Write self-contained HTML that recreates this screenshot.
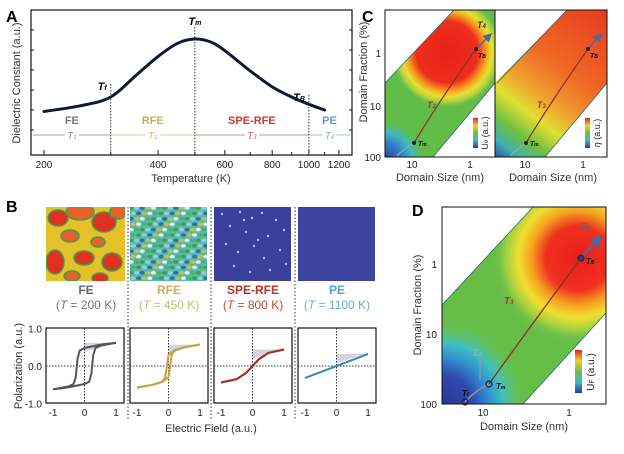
<!DOCTYPE html>
<html><head><meta charset="utf-8"><style>
html,body{margin:0;padding:0;background:#fff;}
svg{display:block;font-family:"Liberation Sans",sans-serif;}
</style></head><body>
<svg id="fig" width="624" height="454" viewBox="0 0 624 454" xmlns="http://www.w3.org/2000/svg">
<defs>
  <linearGradient id="cbar" x1="0" y1="0" x2="0" y2="1">
    <stop offset="0" stop-color="#e8201a"/><stop offset="0.25" stop-color="#f0d030"/>
    <stop offset="0.5" stop-color="#6cc048"/><stop offset="0.75" stop-color="#40b8c8"/>
    <stop offset="1" stop-color="#2a3a9a"/>
  </linearGradient>
  <radialGradient id="cRed" cx="447" cy="52" r="56" gradientUnits="userSpaceOnUse">
    <stop offset="0" stop-color="#e8201a"/><stop offset="0.55" stop-color="#ee2e1c"/>
    <stop offset="0.7" stop-color="#f4a020"/><stop offset="0.8" stop-color="#e8e030"/>
    <stop offset="0.9" stop-color="#a8d040"/><stop offset="1" stop-color="#6cc048" stop-opacity="0"/>
  </radialGradient>
  <radialGradient id="cBlue" cx="385" cy="160" r="42" gradientUnits="userSpaceOnUse">
    <stop offset="0" stop-color="#2a3a9a"/><stop offset="0.4" stop-color="#3080c8"/>
    <stop offset="0.65" stop-color="#40b8c0"/><stop offset="1" stop-color="#6cc048" stop-opacity="0"/>
  </radialGradient>
  <linearGradient id="cEta" x1="495" y1="157" x2="607" y2="10" gradientUnits="userSpaceOnUse">
    <stop offset="0" stop-color="#3050a0"/><stop offset="0.08" stop-color="#40b0b0"/>
    <stop offset="0.18" stop-color="#70c040"/><stop offset="0.3" stop-color="#e0e030"/>
    <stop offset="0.42" stop-color="#f0a030"/><stop offset="0.6" stop-color="#f06a25"/>
    <stop offset="1" stop-color="#e83a20"/>
  </linearGradient>
  <radialGradient id="dRed" cx="578" cy="258" r="85" gradientUnits="userSpaceOnUse">
    <stop offset="0" stop-color="#e82018"/><stop offset="0.38" stop-color="#f03020"/>
    <stop offset="0.55" stop-color="#f5a020"/><stop offset="0.7" stop-color="#f0e030"/>
    <stop offset="0.85" stop-color="#a0d040"/><stop offset="1" stop-color="#6cc048" stop-opacity="0"/>
  </radialGradient>
  <radialGradient id="dBlue" cx="442" cy="404" r="85" gradientUnits="userSpaceOnUse">
    <stop offset="0" stop-color="#283890"/><stop offset="0.35" stop-color="#3048b0"/>
    <stop offset="0.55" stop-color="#3090d0"/><stop offset="0.72" stop-color="#40c0c0"/>
    <stop offset="1" stop-color="#6cc048" stop-opacity="0"/>
  </radialGradient>
  <clipPath id="clipC1"><polygon points="385,157 385,83 454,10 495,10 495,83 433,157"/></clipPath>
  <clipPath id="clipC2"><polygon points="495,157 495,83 567,10 607,10 607,83 545,157"/></clipPath>
  <clipPath id="clipD"><polygon points="442,404 442,305 533,207 606,207 606,313 523,404"/></clipPath>
  <clipPath id="t1"><rect x="46" y="207" width="79" height="74"/></clipPath>
  <clipPath id="t2"><rect x="130" y="207" width="77" height="74"/></clipPath>
  <marker id="arr" markerWidth="6" markerHeight="6" refX="5" refY="3" orient="auto"><path d="M0,0 L6,3 L0,6 z" fill="#4a6aa0"/></marker>
</defs>

<g>
  <text x="6" y="22" font-size="16" font-weight="bold">A</text>
  <rect x="31" y="10" width="321" height="145" fill="none" stroke="#111" stroke-width="1.2"/>
  <text transform="translate(20,83) rotate(-90)" text-anchor="middle" font-size="11" fill="#333">Dielectric Constant (a.u.)</text>
  <text x="191" y="182" text-anchor="middle" font-size="11" fill="#333">Temperature (K)</text>
  <g id="aTicks"></g>
  <g id="aCurve"></g>
</g>

<g>
  <text x="6" y="212" font-size="16" font-weight="bold">B</text>
  <g clip-path="url(#t1)">
    <rect x="46" y="207" width="79" height="74" fill="#e6c028"/>
    <g stroke="#3aa050" stroke-width="1.5">
      <ellipse cx="58" cy="218" rx="10" ry="8" fill="#e03020"/>
      <ellipse cx="80" cy="212" rx="14" ry="8" fill="#e8602a"/>
      <ellipse cx="104" cy="222" rx="12" ry="10" fill="#e03020"/>
      <ellipse cx="118" cy="212" rx="8" ry="7" fill="#e8602a"/>
      <ellipse cx="70" cy="236" rx="9" ry="6" fill="#e8602a"/>
      <ellipse cx="98" cy="242" rx="7" ry="5" fill="#e8602a"/>
      <ellipse cx="55" cy="262" rx="9" ry="12" fill="#e03020"/>
      <ellipse cx="84" cy="258" rx="10" ry="7" fill="#e03020"/>
      <ellipse cx="112" cy="262" rx="10" ry="9" fill="#e03020"/>
      <ellipse cx="72" cy="276" rx="8" ry="5" fill="#e8602a"/>
      <ellipse cx="100" cy="278" rx="8" ry="5" fill="#e03020"/>
    </g>
  </g>
  <g clip-path="url(#t2)">
    <rect x="130" y="207" width="77" height="74" fill="#5cb8a8"/>
    <g id="rfeTex"></g>
  </g>
  <g>
    <rect x="214" y="207" width="77" height="74" fill="#3a3f9c"/>
    <g id="speDots" fill="#a8c8f0"></g>
  </g>
  <rect x="298" y="207" width="77" height="74" fill="#3d44a0"/>
  <g stroke="#333" stroke-dasharray="1.5,2" stroke-width="1">
    <line x1="128" y1="207" x2="128" y2="420"/><line x1="211" y1="207" x2="211" y2="420"/><line x1="295" y1="207" x2="295" y2="420"/>
  </g>
  <g font-size="12" text-anchor="middle">
    <text x="86" y="294" font-weight="bold" fill="#666">FE</text>
    <text x="86" y="309" fill="#777">(<tspan font-style="italic">T</tspan> = 200 K)</text>
    <text x="169" y="294" font-weight="bold" fill="#c8b060">RFE</text>
    <text x="169" y="309" fill="#c8b878">(<tspan font-style="italic">T</tspan> = 450 K)</text>
    <text x="253" y="294" font-weight="bold" fill="#c0302a">SPE-RFE</text>
    <text x="253" y="309" fill="#b84a3a">(<tspan font-style="italic">T</tspan> = 800 K)</text>
    <text x="337" y="294" font-weight="bold" fill="#5aa0c8">PE</text>
    <text x="337" y="309" fill="#6aaad0">(<tspan font-style="italic">T</tspan> = 1100 K)</text>
  </g>
  <text transform="translate(22,366) rotate(-90)" text-anchor="middle" font-size="11" fill="#333">Polarization (a.u.)</text>
  <text x="211" y="432" text-anchor="middle" font-size="11" fill="#333">Electric Field (a.u.)</text>
  <g id="loops"></g>
</g>

<g>
  <text x="362" y="22" font-size="16" font-weight="bold">C</text>
  <g clip-path="url(#clipC1)">
    <rect x="385" y="10" width="110" height="147" fill="#62bc48"/>
    <rect x="385" y="10" width="110" height="147" fill="url(#cRed)"/>
    <rect x="385" y="10" width="110" height="147" fill="url(#cBlue)"/>
  </g>
  <g clip-path="url(#clipC2)">
    <rect x="495" y="10" width="112" height="147" fill="url(#cEta)"/>
  </g>
  <g fill="none" stroke="#2a6a6a" stroke-width="0.8">
    <polyline points="385,83 454,10"/><polyline points="433,157 495,83"/>
    <polyline points="497,83 567,10"/><polyline points="545,157 607,83"/>
  </g>
  <rect x="385" y="10" width="110" height="147" fill="none" stroke="#111"/>
  <rect x="495" y="10" width="112" height="147" fill="none" stroke="#111"/>
  <g font-size="10" fill="#222" text-anchor="end">
    <text x="381" y="57">1</text><text x="381" y="110">10</text><text x="381" y="161">100</text>
  </g>
  <g font-size="10" fill="#222" text-anchor="middle">
    <text x="412" y="168">10</text><text x="470" y="168">1</text>
    <text x="525" y="168">10</text><text x="583" y="168">1</text>
  </g>
  <text x="440" y="181" text-anchor="middle" font-size="11" fill="#333">Domain Size (nm)</text>
  <text x="553" y="181" text-anchor="middle" font-size="11" fill="#333">Domain Size (nm)</text>
  <text transform="translate(367,72) rotate(-90)" text-anchor="middle" font-size="11" fill="#333">Domain Fraction (%)</text>
  <rect x="473" y="118" width="5" height="30" fill="url(#cbar)"/>
  <text transform="translate(488,133) rotate(-90)" text-anchor="middle" font-size="9" fill="#222">U<tspan font-size="6">e</tspan> (a.u.)</text>
  <rect x="585" y="118" width="5" height="30" fill="url(#cbar)"/>
  <text transform="translate(600,133) rotate(-90)" text-anchor="middle" font-size="9" fill="#222" font-style="italic">η <tspan font-style="normal">(a.u.)</tspan></text>
  <g>
    <path d="M397,156 Q402,150 414,143" stroke="#aaa" fill="none" stroke-width="1"/>
    <path d="M414,143 Q440,100 476,49" stroke="#8a3020" fill="none" stroke-width="1.2"/>
    <line x1="476" y1="49" x2="491" y2="34" stroke="#4a6aa0" stroke-width="1.5" marker-end="url(#arr)"/>
    <circle cx="414" cy="143" r="2" fill="#222"/><circle cx="476" cy="49" r="2" fill="#222"/>
    <text x="418" y="146" font-size="7" font-style="italic" font-weight="bold">T<tspan font-size="5">m</tspan></text>
    <text x="478" y="58" font-size="7" font-style="italic" font-weight="bold">T<tspan font-size="5">B</tspan></text>
    <text x="427" y="108" font-size="9" font-style="italic" fill="#a04020" font-weight="bold">T<tspan font-size="6">3</tspan></text>
    <text x="477" y="28" font-size="9" font-style="italic" fill="#333" font-weight="bold">T<tspan font-size="6">4</tspan></text>
  </g>
  <g>
    <path d="M510,156 Q516,150 526,143" stroke="#aaa" fill="none" stroke-width="1"/>
    <path d="M526,143 Q552,100 588,49" stroke="#8a3020" fill="none" stroke-width="1.2"/>
    <line x1="588" y1="49" x2="601" y2="34" stroke="#4a6aa0" stroke-width="1.5" marker-end="url(#arr)"/>
    <circle cx="526" cy="143" r="2" fill="#222"/><circle cx="588" cy="49" r="2" fill="#222"/>
    <text x="530" y="146" font-size="7" font-style="italic" font-weight="bold">T<tspan font-size="5">m</tspan></text>
    <text x="590" y="58" font-size="7" font-style="italic" font-weight="bold">T<tspan font-size="5">B</tspan></text>
    <text x="537" y="108" font-size="9" font-style="italic" fill="#a04020" font-weight="bold">T<tspan font-size="6">3</tspan></text>
  </g>
</g>

<g>
  <text x="412" y="216" font-size="16" font-weight="bold">D</text>
  <g clip-path="url(#clipD)">
    <rect x="442" y="207" width="164" height="197" fill="#66be48"/>
    <rect x="442" y="207" width="164" height="197" fill="url(#dRed)"/>
    <rect x="442" y="207" width="164" height="197" fill="url(#dBlue)"/>
  </g>
  <g fill="none" stroke="#2a6a6a" stroke-width="0.8">
    <polyline points="442,305 533,207"/><polyline points="523,404 606,313"/>
  </g>
  <rect x="442" y="207" width="164" height="197" fill="none" stroke="#111"/>
  <g font-size="10" fill="#222" text-anchor="end">
    <text x="437" y="268">1</text><text x="437" y="338">10</text><text x="437" y="408">100</text>
  </g>
  <g font-size="10" fill="#222" text-anchor="middle">
    <text x="483" y="416">10</text><text x="569" y="416">1</text>
  </g>
  <text x="524" y="430" text-anchor="middle" font-size="11" fill="#333">Domain Size (nm)</text>
  <text transform="translate(421,305) rotate(-90)" text-anchor="middle" font-size="11" fill="#333">Domain Fraction (%)</text>
  <rect x="575" y="350" width="7" height="43" fill="url(#cbar)"/>
  <text transform="translate(594,372) rotate(-90)" text-anchor="middle" font-size="10" fill="#222">U<tspan font-size="7">F</tspan> (a.u.)</text>
  <g>
    <path d="M465,402 Q476,390 489,384" stroke="#999" fill="none" stroke-width="1.3"/>
    <line x1="480" y1="380" x2="480" y2="355" stroke="#999" stroke-width="1.2"/>
    <path d="M489,384 Q535,320 581,258" stroke="#8a3020" fill="none" stroke-width="1.3"/>
    <line x1="581" y1="258" x2="601" y2="236" stroke="#4a6aa0" stroke-width="2" marker-end="url(#arr)"/>
    <circle cx="489" cy="384" r="3" fill="none" stroke="#222" stroke-width="1.2"/>
    <circle cx="465" cy="402" r="3" fill="none" stroke="#222" stroke-width="1.2"/>
    <circle cx="581" cy="258" r="3" fill="#2a3a9a" stroke="#222" stroke-width="1"/>
    <text x="496" y="389" font-size="8" font-style="italic" font-weight="bold">T<tspan font-size="5">m</tspan></text>
    <text x="586" y="264" font-size="8" font-style="italic" font-weight="bold">T<tspan font-size="5">B</tspan></text>
    <text x="462" y="396" font-size="8" font-style="italic" font-weight="bold">T<tspan font-size="5">f</tspan></text>
    <text x="504" y="304" font-size="10" font-style="italic" fill="#a04020" font-weight="bold">T<tspan font-size="6">3</tspan></text>
    <text x="472" y="356" font-size="10" font-style="italic" fill="#aaa" font-weight="bold">T<tspan font-size="6">2</tspan></text>
    <text x="580" y="230" font-size="10" font-style="italic" fill="#4a6aa0" font-weight="bold">T<tspan font-size="6">4</tspan></text>
  </g>
</g>
</svg>

<script>
const aTemps = [200,250,300,350,400,450,500,550,600,700,800,900,1000,1100];
const aDielectric = [0.30,0.34,0.40,0.55,0.68,0.77,0.80,0.78,0.72,0.58,0.47,0.40,0.35,0.31];
const aTickLabels = [200,400,600,800,1000,1200];
const aMinorTicks = [300,500,700,900,1100];
const aPhaseTemps = [300,500,1000];
const aPhaseNames = ["Tf","Tm","TB"];
const bFeE = [-1,-0.6,-0.4,0,0.15,0.22,0.28,0.35,0.5,1];
const bFeP = [-0.62,-0.58,-0.55,-0.48,-0.42,-0.2,0.3,0.48,0.54,0.62];
const bRfeE = [-1,-0.5,-0.2,0,0.05,0.1,0.2,0.5,1];
const bRfeP = [-0.58,-0.5,-0.42,-0.3,0,0.3,0.42,0.5,0.57];
const bSpeE = [-1,-0.5,-0.2,0,0.2,0.5,1];
const bSpeP = [-0.44,-0.35,-0.18,0,0.18,0.35,0.44];
const bPeE = [-1,0,1];
const bPeP = [-0.32,0,0.32];
const bYTicks = ["1.0","0.0","-1.0"];
const bXTicks = ["-1","0","1"];

const NS = "http://www.w3.org/2000/svg";
function mk(tag, attrs, parent){const e=document.createElementNS(NS,tag);for(const k in attrs)e.setAttribute(k,attrs[k]);parent.appendChild(e);return e;}
function smooth(pts){
  let d='M'+pts[0][0].toFixed(1)+','+pts[0][1].toFixed(1);
  for(let i=0;i<pts.length-1;i++){
    const p0=pts[Math.max(i-1,0)],p1=pts[i],p2=pts[i+1],p3=pts[Math.min(i+2,pts.length-1)];
    const c1=[p1[0]+(p2[0]-p0[0])/6,p1[1]+(p2[1]-p0[1])/6];
    const c2=[p2[0]-(p3[0]-p1[0])/6,p2[1]-(p3[1]-p1[1])/6];
    d+='C'+c1[0].toFixed(1)+','+c1[1].toFixed(1)+' '+c2[0].toFixed(1)+','+c2[1].toFixed(1)+' '+p2[0].toFixed(1)+','+p2[1].toFixed(1);
  }
  return d;
}

const ax = t => 44 + (Math.log10(t) - Math.log10(200)) * 379;
const ay = v => 155 - v * 145;
const aT = document.getElementById('aTicks');
aTickLabels.forEach(t=>{
  const l=mk('line',{x1:ax(t),x2:ax(t),y1:155,y2:150,stroke:'#111'},aT);
  
  
  const tx=mk('text',{x:ax(t),y:168,'text-anchor':'middle','font-size':10,fill:'#222'},aT);
  tx.textContent=t;
  
  
});
aMinorTicks.forEach(t=>{mk('line',{x1:ax(t),x2:ax(t),y1:155,y2:152,stroke:'#111'},aT);});
for(let i=1;i<7;i++){mk('line',{x1:31,x2:34,y1:10+i*20,y2:10+i*20,stroke:'#111'},aT);mk('line',{x1:349,x2:352,y1:10+i*20,y2:10+i*20,stroke:'#111'},aT);}
const aC = document.getElementById('aCurve');
const tops=[84,27,95];
aPhaseTemps.forEach((t,i)=>{
  const l=mk('line',{x1:ax(t),x2:ax(t),y1:tops[i],y2:155,stroke:'#333','stroke-dasharray':'1.5,1.5'},aC);
  
  
  const tx=mk('text',{x:ax(t)-4,y:tops[i]+6,'text-anchor':'end','font-size':11,'font-style':'italic','font-weight':'bold'},aC);
  tx.textContent='T';
  const sub=mk('tspan',{'font-size':7},tx);
  sub.textContent=aPhaseNames[i].slice(1);
  if(i===1){tx.setAttribute('x',ax(t));tx.setAttribute('text-anchor','middle');tx.setAttribute('y',tops[i]-2);}
});
const bounds=[33,ax(300),ax(500),ax(1000),350];
const rCols=['#888','#c8b878','#c86060','#78b0d0'];
const rNames=['FE','RFE','SPE-RFE','PE'];
const rTxt=['#777','#c8b060','#c83a30','#5aa0c8'];
for(let i=0;i<4;i++){
  mk('line',{x1:bounds[i],x2:bounds[i+1],y1:135,y2:135,stroke:rCols[i],'stroke-width':0.8},aC);
  const m=(bounds[i]+bounds[i+1])/2;
  const n=mk('text',{x:m,y:124,'text-anchor':'middle','font-size':11,'font-weight':'bold',fill:rTxt[i]},aC);
  n.textContent=rNames[i];
  
  
  mk('rect',{x:m-7,y:129,width:14,height:12,fill:'#fff'},aC);
  const t=mk('text',{x:m,y:139,'text-anchor':'middle','font-size':10,'font-style':'italic',fill:rCols[i]},aC);
  t.textContent='T';
  const s=mk('tspan',{'font-size':6},t);
  s.textContent=String(i+1);
}
const aPts=aTemps.map((t,i)=>[ax(t),ay(aDielectric[i])]);
const curve=mk('path',{d:smooth(aPts),fill:'none',stroke:'#101838','stroke-width':3,'stroke-linecap':'round'},aC);



const loopsG=document.getElementById('loops');
const frames=[46,130,214,298];
const sets=[[bFeE,bFeP,'#555'],[bRfeE,bRfeP,'#c8a040'],[bSpeE,bSpeP,'#b02a20'],[bPeE,bPeP,'#3a8ab0']];
const names=['fe','rfe','spe-rfe','pe'];
frames.forEach((fx,k)=>{
  const px=e=>fx+38.5+e*31.5, py=p=>366-p*37.5;
  const g=mk('g',{},loopsG);
  
  
  mk('rect',{x:fx,y:328,width:78,height:75,fill:'#fff',stroke:'#111','stroke-width':1.2},g);
  const [E,P,c]=sets[k];
  const pm=P[P.length-1];
  const p0=P[E.indexOf(0)];
  mk('path',{d:'M'+px(0)+','+py(pm)+' L'+px(1)+','+py(pm)+' L'+px(0.6)+','+py(pm-0.08)+' L'+px(0)+','+py(Math.max(p0,pm-0.25))+'Z',fill:'#c8ccd8',opacity:0.8},g);
  mk('line',{x1:fx,x2:fx+78,y1:py(0),y2:py(0),stroke:'#333','stroke-dasharray':'1.5,1.5'},g);
  mk('line',{x1:px(0),x2:px(0),y1:328,y2:403,stroke:'#333','stroke-dasharray':'1.5,1.5'},g);
  let up='',dn='';
  E.forEach((e,i)=>{up+=(i?'L':'M')+px(e).toFixed(1)+','+py(P[i]).toFixed(1);});
  for(let i=E.length-1;i>=0;i--){dn+=(i<E.length-1?'L':'M')+px(-E[i]).toFixed(1)+','+py(-P[i]).toFixed(1);}
  const l1=mk('path',{d:up,fill:'none',stroke:c,'stroke-width':2},g);
  
  
  const l2=mk('path',{d:dn,fill:'none',stroke:c,'stroke-width':2},g);
  
  
  bXTicks.forEach(t=>{const tx=mk('text',{x:px(+t),y:416,'text-anchor':'middle','font-size':10,fill:'#222'},g);tx.textContent=t;});
});
[1,0,-1].forEach((v,i)=>{const tx=mk('text',{x:42,y:366-v*37.5+4,'text-anchor':'end','font-size':10,fill:'#222'},loopsG);tx.textContent=bYTicks[i];});

const rt=document.getElementById('rfeTex');
const cols=['#3aa050','#90d0e0','#2a70b0','#c8c040','#e0f0f0','#48b070'];
for(let i=0;i<14;i++)for(let j=0;j<14;j++){
  const s=(i*7+j*13)%6;
  mk('ellipse',{cx:131+i*5.6+(j%2)*2,cy:208+j*5.4,rx:2.6,ry:1.8,fill:cols[s]},rt);
}
const dots=[[222,214],[240,212],[252,218],[262,213],[276,220],[230,226],[246,232],[268,236],[284,230],[226,244],[238,252],[254,246],[264,258],[280,250],[234,266],[250,272],[270,270],[286,264],[244,220],[258,240]];
const sd=document.getElementById('speDots');
dots.forEach(p=>mk('circle',{cx:p[0],cy:p[1],r:1.2},sd));
</script>
</body></html>
